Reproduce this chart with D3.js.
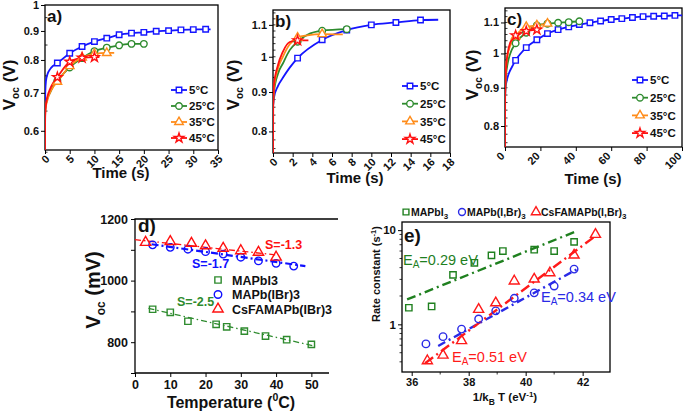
<!DOCTYPE html>
<html>
<head>
<meta charset="utf-8">
<script src="https://d3js.org/d3.v7.min.js"></script>
<style>
  body { margin: 0; background: #fff; }
  text { font-family: Arial, "Liberation Sans", sans-serif; }
</style>
</head>
<body>
<svg id="fig" width="685" height="414"></svg>
<script>
// ---------- data ----------
var tempLabels = ["5°C", "25°C", "35°C", "45°C"];

// panel a : Voc (V) vs time (s), MAPbI3
var aMarkTimes = [2.5, 5, 7.5, 10, 12.5, 15, 17.5, 20, 22.5, 25, 27.5, 30, 32.5];
var a5C  = [[0,0.65],[0.05,0.70],[0.2,0.735],[0.5,0.755],[1,0.77],[1.7,0.782],[2.5,0.79],[5,0.822],[7.5,0.845],[10,0.862],[12.5,0.874],[15,0.886],[17.5,0.892],[20,0.895],[22.5,0.899],[25,0.901],[27.5,0.904],[30,0.905],[32.5,0.906],[33.5,0.906]];
var a25C = [[0,0.64],[0.1,0.66],[0.5,0.685],[1,0.70],[1.7,0.72],[2.5,0.735],[5,0.776],[7.5,0.806],[10,0.829],[12.5,0.841],[15,0.849],[17.5,0.854],[20,0.854]];
var a35C = [[0,0.63],[0.1,0.655],[0.5,0.68],[1,0.70],[1.7,0.718],[2.5,0.732],[5,0.78],[7.5,0.808],[10,0.82],[12.5,0.823],[14,0.823]];
var a45C = [[0,0.555],[0.02,0.62],[0.1,0.655],[0.5,0.69],[1,0.71],[1.7,0.73],[2.5,0.746],[5,0.794],[7.5,0.807],[10,0.809],[11,0.809]];

// panel b : MAPb(IBr)3
var bMarkTimes = [2.5, 5, 7.5, 10, 12.5, 15];
var b5C  = [[0,0.86],[0.1,0.885],[0.5,0.916],[1,0.939],[1.7,0.968],[2.5,0.996],[5,1.052],[7.5,1.083],[10,1.10],[12.5,1.108],[15,1.116],[16.8,1.117]];
var b25C = [[0,0.86],[0.1,0.9],[0.5,0.95],[1,0.98],[1.7,1.02],[2.5,1.046],[3.5,1.068],[5,1.081],[7.5,1.086]];
var b35C = [[0,0.86],[0.1,0.91],[0.5,0.965],[1,1.0],[1.7,1.038],[2.5,1.059],[3.5,1.066],[5,1.07],[7.1,1.069]];
var b45C = [[0,0.75],[0.02,0.86],[0.1,0.92],[0.5,0.975],[1,1.015],[1.7,1.045],[2.5,1.05],[3.6,1.05]];

// panel c : CsFAMAPb(IBr)3
var cMarkTimes = [6, 12, 18, 24, 30, 36, 42, 48, 54, 60, 66, 72, 78, 84, 90, 96];
var c5C  = [[0,0.87],[0.3,0.90],[1,0.92],[2,0.938],[4,0.96],[6,0.979],[12,1.018],[18,1.043],[24,1.063],[30,1.076],[36,1.085],[42,1.093],[48,1.099],[54,1.105],[60,1.11],[66,1.113],[72,1.117],[78,1.12],[84,1.121],[90,1.122],[96,1.124],[100,1.124]];
var c25C = [[0,0.87],[0.5,0.93],[1.5,0.97],[3,1.0],[6,1.032],[12,1.066],[18,1.09],[24,1.096],[30,1.099],[36,1.101],[42,1.104],[44,1.104]];
var c35C = [[0,0.87],[0.3,0.93],[1,0.98],[3,1.025],[6,1.054],[12,1.085],[18,1.09],[24,1.096]];
var c45C = [[0,0.75],[0.1,0.88],[0.5,0.95],[1.5,1.0],[3,1.035],[6,1.057],[12,1.071],[18,1.076]];

// panel d : Voc (mV) vs temperature (C)
var dTempI3   = [5, 10, 15, 23, 26, 31, 37, 43, 50];
var dVocI3    = [907, 897, 868, 858, 850, 836, 820, 808, 793];
var dTempIBr  = [5, 10, 15, 20, 25, 30, 35, 40, 45];
var dVocIBr   = [1116, 1108, 1102, 1094, 1086, 1076, 1064, 1056, 1047];
var dTempCs   = [3, 10, 16, 20, 25, 30, 35, 40];
var dVocCs    = [1124, 1127, 1121, 1113, 1105, 1097, 1092, 1076];
var dFitI3  = [[3.8, 910], [51.1, 787]];
var dFitIBr = [[4.7, 1118], [48.3, 1047]];
var dFitCs  = [[0, 1133], [40.2, 1083]];
var dNames  = ["MAPbI3", "MAPb(IBr)3", "CsFAMAPb(IBr)3"];

// panel e : rate constant (1/s) vs 1/kBT (1/eV)
var eInvI3  = [35.9, 36.7, 37.45, 38.2, 38.8, 39.2, 40.3, 41.0, 41.7];
var eRateI3 = [1.5, 1.55, 3.35, 4.5, 5.4, 6.0, 6.2, 6.0, 7.5];
var eInvIBr  = [36.5, 37.1, 37.75, 38.35, 38.95, 39.6, 40.3, 41.0, 41.7];
var eRateIBr = [0.62, 0.74, 0.89, 1.14, 1.39, 1.89, 2.16, 2.55, 3.86];
var eInvCs  = [36.55, 37.1, 37.75, 38.35, 38.95, 39.6, 40.3, 40.85, 41.7, 42.45];
var eRateCs = [0.41, 0.47, 0.67, 1.44, 1.69, 2.88, 3.02, 3.52, 5.43, 9.0];
var eFitI3  = [[35.84, 1.84], [41.73, 9.6]];
var eFitIBr = [[36.93, 0.59], [41.85, 3.92]];
var eFitCs  = [[36.47, 0.386], [42.49, 8.85]];
var eActEnergy = ["0.29", "0.34", "0.51"];

// ---------- drawing ----------
var svg = d3.select("#fig");
var tempColors = ["#1515ff", "#2e8b2e", "#ff8c1a", "#ff1010"];
var tempShapes = ["square", "circle", "triangle", "star"];
var symTypes = { square: d3.symbolSquare, circle: d3.symbolCircle, triangle: d3.symbolTriangle, star: d3.symbolStar };
var symSize = { square: 30, circle: 34, triangle: 32, star: 28 };

function sym(shape, size) {
  return d3.symbol().type(symTypes[shape]).size(size || symSize[shape])();
}

function styleAxis(a, size) {
  a.select(".domain").remove();
  a.selectAll(".tick line").attr("stroke", "#000").attr("stroke-width", 1);
  a.selectAll("text").attr("font-size", size).attr("font-weight", "bold").attr("fill", "#111")
    .attr("font-family", "Arial, 'Liberation Sans', sans-serif");
}

function vocLabel(g, x, y, size, unit) {
  var t = g.append("text").attr("transform", "translate(" + x + "," + y + ") rotate(-90)")
    .attr("text-anchor", "middle").attr("font-weight", "bold").attr("font-size", size).attr("fill", "#111");
  t.append("tspan").text("V");
  t.append("tspan").attr("font-size", size * 0.6).attr("dy", size * 0.25).text("oc");
  t.append("tspan").attr("dy", -size * 0.25).text(" (" + unit + ")");
}

function timePanel(p) {
  var x = d3.scaleLinear().domain(p.xDomain).range([p.left, p.right]);
  var y = d3.scaleLog().domain(p.yDomain).range([p.bottom, p.top]);
  var g = svg.append("g");
  var clipId = "clip-" + p.name;
  g.append("clipPath").attr("id", clipId).append("rect")
    .attr("x", p.left).attr("y", p.top).attr("width", p.right - p.left).attr("height", p.bottom - p.top);

  g.selectAll(".minor").data(p.yMinor).enter().append("line")
    .attr("x1", p.left).attr("x2", p.left + 2.5)
    .attr("y1", function (d) { return y(d); }).attr("y2", function (d) { return y(d); })
    .attr("stroke", "#000").attr("stroke-width", 0.8);

  var ya = g.append("g").attr("transform", "translate(" + p.left + ",0)")
    .call(d3.axisLeft(y).tickValues(p.yTicks).tickFormat(d3.format("~g")).tickSize(4).tickPadding(2));
  styleAxis(ya, 11);
  var xa = g.append("g").attr("transform", "translate(0," + p.bottom + ")")
    .call(d3.axisBottom(x).tickValues(p.xTicks).tickSize(4));
  styleAxis(xa, 11);
  xa.selectAll(".tick text").attr("x", 0).attr("y", 0).attr("dy", "0.35em")
    .attr("transform", "translate(" + p.tickDx + ",7) rotate(-45)").style("text-anchor", "end");

  g.append("rect").attr("x", p.left).attr("y", p.top).attr("width", p.right - p.left)
    .attr("height", p.bottom - p.top).attr("fill", "none").attr("stroke", "#000").attr("stroke-width", 1.3);

  var line = d3.line().x(function (d) { return x(d[0]); }).y(function (d) { return y(d[1]); })
    .curve(d3.curveMonotoneX);
  p.series.forEach(function (s, i) {
    g.append("path").attr("d", line(s)).attr("fill", "none").attr("stroke", tempColors[i])
      .attr("stroke-width", 1.8).attr("clip-path", "url(#" + clipId + ")");
  });
  p.series.forEach(function (s, i) {
    var pts = s.filter(function (d) { return p.markTimes.indexOf(d[0]) >= 0; });
    g.selectAll(null).data(pts).enter().append("path")
      .attr("d", sym(tempShapes[i]))
      .attr("transform", function (d) { return "translate(" + x(d[0]) + "," + y(d[1]) + ")"; })
      .attr("fill", "#fff").attr("stroke", tempColors[i]).attr("stroke-width", 1.4);
  });

  // legend
  tempLabels.forEach(function (lab, i) {
    var ly = p.legY + i * p.legDy;
    g.append("line").attr("x1", p.legX).attr("x2", p.legX + 16).attr("y1", ly).attr("y2", ly)
      .attr("stroke", tempColors[i]).attr("stroke-width", 1.8);
    g.append("path").attr("d", sym(tempShapes[i])).attr("transform", "translate(" + (p.legX + 8) + "," + ly + ")")
      .attr("fill", "#fff").attr("stroke", tempColors[i]).attr("stroke-width", 1.4);
    g.append("text").attr("x", p.legX + 18).attr("y", ly).attr("dy", "0.36em")
      .attr("font-size", 11.5).attr("font-weight", "bold").attr("fill", "#111").text(lab);
  });

  g.append("text").attr("x", p.left + 2).attr("y", p.top + 17).attr("font-size", 17)
    .attr("font-weight", "bold").attr("fill", "#111").text(p.name + ")");
  vocLabel(g, p.yLabX, p.yLabY, 17, "V");
  g.append("text").attr("x", p.xLabX).attr("y", p.xLabY).attr("text-anchor", "middle")
    .attr("font-size", 15).attr("font-weight", "bold").attr("fill", "#111").text("Time (s)");
}

timePanel({
  name: "a", left: 45, right: 218, top: 5, bottom: 150,
  xDomain: [0, 35], yDomain: [0.555, 1],
  xTicks: d3.range(0, 36, 5), yTicks: [0.6, 0.7, 0.8, 0.9, 1],
  yMinor: [0.55, 0.65, 0.75, 0.85, 0.95],
  series: [a5C, a25C, a35C, a45C], markTimes: aMarkTimes,
  legX: 171, legY: 90, legDy: 16, tickDx: 2,
  yLabX: 15, yLabY: 85, xLabX: 121, xLabY: 178
});
timePanel({
  name: "b", left: 273, right: 450, top: 10, bottom: 153,
  xDomain: [0, 18], yDomain: [0.75, 1.15],
  xTicks: d3.range(0, 19, 2), yTicks: [0.8, 0.9, 1, 1.1],
  yMinor: d3.range(0.76, 1.15, 0.02),
  series: [b5C, b25C, b35C, b45C], markTimes: bMarkTimes,
  legX: 402, legY: 86, legDy: 17.7, tickDx: 2,
  yLabX: 239, yLabY: 85, xLabX: 355, xLabY: 183
});
timePanel({
  name: "c", left: 505, right: 682, top: 8, bottom: 147,
  xDomain: [0, 100], yDomain: [0.75, 1.15],
  xTicks: d3.range(0, 101, 20), yTicks: [0.8, 0.9, 1, 1.1],
  yMinor: d3.range(0.76, 1.15, 0.02),
  series: [c5C, c25C, c35C, c45C], markTimes: cMarkTimes,
  legX: 632, legY: 80, legDy: 17.7, tickDx: -3,
  yLabX: 478, yLabY: 75, xLabX: 593, xLabY: 184
});

// ---------- panel d ----------
(function () {
  var left = 135, right = 329, top = 219, bottom = 373;
  var x = d3.scaleLinear().domain([0, 55]).range([left, right]);
  var y = d3.scaleLinear().domain([700, 1200]).range([bottom, top]);
  var g = svg.append("g");
  var cols = ["#2e8b2e", "#1010ff", "#ff1010"];
  var shapes = ["square", "circle", "triangle"];
  var sizes = [40, 44, 46];

  var ya = g.append("g").attr("transform", "translate(" + left + ",0)")
    .call(d3.axisLeft(y).tickValues(d3.range(700, 1201, 100))
      .tickFormat(function (d) { return d % 200 === 0 && d > 700 ? d : ""; }).tickSize(4));
  styleAxis(ya, 12.5);
  var xa = g.append("g").attr("transform", "translate(0," + bottom + ")")
    .call(d3.axisBottom(x).tickValues(d3.range(0, 51, 10)).tickSize(4).tickPadding(3));
  styleAxis(xa, 12.5);
  g.append("path").attr("d", "M" + left + "," + bottom + "V" + top + "H" + 338 + "M" + left + "," + bottom + "H" + right)
    .attr("fill", "none").attr("stroke", "#000").attr("stroke-width", 1.3);

  var fits = [dFitI3, dFitIBr, dFitCs];
  var dashes = ["6,3,1.5,3", "7,3,2,3", "6,3,1.5,3"];
  var widths = [1.3, 2.2, 1.3];
  fits.forEach(function (f, i) {
    g.append("line").attr("x1", x(f[0][0])).attr("y1", y(f[0][1])).attr("x2", x(f[1][0])).attr("y2", y(f[1][1]))
      .attr("stroke", cols[i]).attr("stroke-width", widths[i]).attr("stroke-dasharray", dashes[i]);
  });
  var sets = [[dTempI3, dVocI3], [dTempIBr, dVocIBr], [dTempCs, dVocCs]];
  sets.forEach(function (s, i) {
    g.selectAll(null).data(s[0]).enter().append("path")
      .attr("d", sym(shapes[i], sizes[i]))
      .attr("transform", function (d, j) { return "translate(" + x(d) + "," + y(s[1][j]) + ")"; })
      .attr("fill", "none").attr("stroke", cols[i]).attr("stroke-width", 1.4);
  });
  dNames.forEach(function (n, i) {
    var ly = 280 + i * 14.5;
    g.append("path").attr("d", sym(shapes[i], sizes[i])).attr("transform", "translate(218," + ly + ")")
      .attr("fill", "none").attr("stroke", cols[i]).attr("stroke-width", 1.4);
    g.append("text").attr("x", 232).attr("y", ly).attr("dy", "0.36em").attr("font-size", 12.5)
      .attr("font-weight", "bold").attr("fill", "#111").text(n);
  });
  var sLab = [["S=-2.5", 177, 306], ["S=-1.7", 192, 268], ["S=-1.3", 265, 249]];
  sLab.forEach(function (s, i) {
    g.append("text").attr("x", s[1]).attr("y", s[2]).attr("font-size", 12.5).attr("font-weight", "bold")
      .attr("fill", cols[i]).text(s[0]);
  });
  g.append("text").attr("x", 138).attr("y", 232).attr("font-size", 19).attr("font-weight", "bold")
    .attr("fill", "#111").text("d)");
  vocLabel(g, 100, 290, 20, "mV");
  var xl = g.append("text").attr("x", 231).attr("y", 408).attr("text-anchor", "middle")
    .attr("font-size", 16).attr("font-weight", "bold").attr("fill", "#111");
  xl.append("tspan").text("Temperature (");
  xl.append("tspan").attr("font-size", 10.5).attr("dy", -7).text("0");
  xl.append("tspan").attr("dy", 7).text("C)");
})();

// ---------- panel e ----------
(function () {
  var left = 402, right = 610, top = 222, bottom = 372;
  var x = d3.scaleLinear().domain([35.66, 42.96]).range([left, right]);
  var y = d3.scaleLog().domain([0.312, 12.2]).range([bottom, top]);
  var g = svg.append("g");
  var cols = ["#1f801f", "#2a2ae6", "#ff1a1a"];
  var shapes = ["square", "circle", "triangle"];
  var sizes = [40, 44, 44];

  var minorY = [0.4, 0.5, 0.6, 0.7, 0.8, 0.9, 2, 3, 4, 5, 6, 7, 8, 9];
  g.selectAll(".my").data(minorY).enter().append("line")
    .attr("x1", left - 2.5).attr("x2", left)
    .attr("y1", function (d) { return y(d); }).attr("y2", function (d) { return y(d); })
    .attr("stroke", "#000").attr("stroke-width", 0.8);
  g.selectAll(".mx").data([37, 39, 41]).enter().append("line")
    .attr("x1", function (d) { return x(d); }).attr("x2", function (d) { return x(d); })
    .attr("y1", bottom).attr("y2", bottom + 2.5).attr("stroke", "#000").attr("stroke-width", 0.8);
  var ya = g.append("g").attr("transform", "translate(" + left + ",0)")
    .call(d3.axisLeft(y).tickValues([1, 10]).tickFormat(d3.format("~g")).tickSize(4).tickPadding(2));
  styleAxis(ya, 11.5);
  var xa = g.append("g").attr("transform", "translate(0," + bottom + ")")
    .call(d3.axisBottom(x).tickValues([36, 38, 40, 42]).tickSize(4).tickPadding(2));
  styleAxis(xa, 11);
  g.append("rect").attr("x", left).attr("y", top).attr("width", right - left).attr("height", bottom - top)
    .attr("fill", "none").attr("stroke", "#000").attr("stroke-width", 1.3);

  var fits = [eFitI3, eFitIBr, eFitCs];
  var dashes = ["9,4,2,4", "8,4,2,4", "10,4,2,4"];
  fits.forEach(function (f, i) {
    g.append("line").attr("x1", x(f[0][0])).attr("y1", y(f[0][1])).attr("x2", x(f[1][0])).attr("y2", y(f[1][1]))
      .attr("stroke", cols[i]).attr("stroke-width", 2.4).attr("stroke-dasharray", dashes[i]);
  });
  var sets = [[eInvI3, eRateI3], [eInvIBr, eRateIBr], [eInvCs, eRateCs]];
  sets.forEach(function (s, i) {
    g.selectAll(null).data(s[0]).enter().append("path")
      .attr("d", sym(shapes[i], sizes[i]))
      .attr("transform", function (d, j) { return "translate(" + x(d) + "," + y(s[1][j]) + ")"; })
      .attr("fill", "none").attr("stroke", cols[i]).attr("stroke-width", 1.4);
  });

  // legend on top
  var leg = [[406, "MAPbI", "3"], [462, "MAPb(I,Br)", "3"], [536, "CsFAMAPb(I,Br)", "3"]];
  leg.forEach(function (l, i) {
    g.append("path").attr("d", sym(shapes[i], sizes[i] * 0.85)).attr("transform", "translate(" + l[0] + ",212)")
      .attr("fill", "none").attr("stroke", cols[i]).attr("stroke-width", 1.4);
    var t = g.append("text").attr("x", l[0] + 5).attr("y", 212).attr("dy", "0.36em")
      .attr("font-size", 10.5).attr("font-weight", "bold").attr("fill", "#111");
    t.append("tspan").text(l[1]);
    t.append("tspan").attr("font-size", 8).attr("dy", 3).text(l[2]);
  });

  var eaPos = [[403, 265], [541, 302], [452, 362]];
  eActEnergy.forEach(function (v, i) {
    var t = g.append("text").attr("x", eaPos[i][0]).attr("y", eaPos[i][1]).attr("font-size", 14.5)
      .attr("fill", cols[i]);
    t.append("tspan").text("E");
    t.append("tspan").attr("font-size", 10).attr("dy", 3).text("A");
    t.append("tspan").attr("dy", -3).text("=" + v + " eV");
  });

  g.append("text").attr("x", left + 2).attr("y", top + 20).attr("font-size", 19).attr("font-weight", "bold")
    .attr("fill", "#111").text("e)");

  var yl = g.append("text").attr("transform", "translate(380,274) rotate(-90)").attr("text-anchor", "middle")
    .attr("font-size", 11).attr("font-weight", "bold").attr("fill", "#111");
  yl.append("tspan").text("Rate constant (s");
  yl.append("tspan").attr("font-size", 7.5).attr("dy", -4).text("-1");
  yl.append("tspan").attr("dy", 4).text(")");

  var xl = g.append("text").attr("x", 505).attr("y", 401).attr("text-anchor", "middle")
    .attr("font-size", 11.5).attr("font-weight", "bold").attr("fill", "#111");
  xl.append("tspan").text("1/k");
  xl.append("tspan").attr("font-size", 8.5).attr("dy", 4).text("B");
  xl.append("tspan").attr("dy", -4).text(" T (eV");
  xl.append("tspan").attr("font-size", 8).attr("dy", -4).text("-1");
  xl.append("tspan").attr("dy", 4).text(")");
})();
</script>
</body>
</html>
